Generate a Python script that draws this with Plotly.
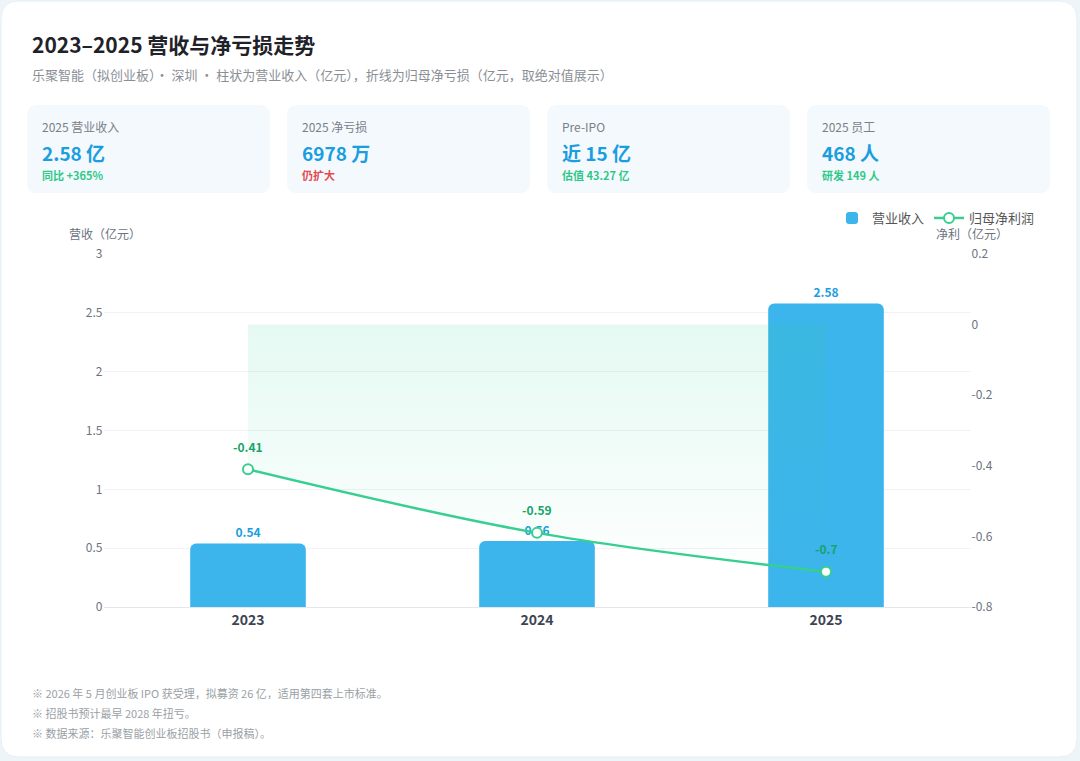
import plotly.graph_objects as go

W, H = 1080, 761
FONT = 'Noto Sans CJK SC'

years = ['2023', '2024', '2025']
revenue = [0.54, 0.56, 2.58]          # 营业收入（亿元）
net_profit = [-0.41, -0.59, -0.70]    # 归母净利润（亿元）
revenue_labels = ['0.54', '0.56', '2.58']
profit_labels = ['-0.41', '-0.59', '-0.7']

left_ticks = [0, 0.5, 1, 1.5, 2, 2.5, 3]
left_ticktext = ['0', '0.5', '1', '1.5', '2', '2.5', '3']
right_ticks = [-0.8, -0.6, -0.4, -0.2, 0, 0.2]
right_ticktext = ['-0.8', '-0.6', '-0.4', '-0.2', '0', '0.2']

kpi_labels = ['2025 营业收入', '2025 净亏损', 'Pre-IPO', '2025 员工']
kpi_values = ['2.58 亿', '6978 万', '近 15 亿', '468 人']
kpi_notes = ['同比 +365%', '仍扩大', '估值 43.27 亿', '研发 149 人']
kpi_note_colors = ['#2ec98a', '#e5484d', '#2ec98a', '#2ec98a']

footnotes = [
    '※ 2026 年 5 月创业板 IPO 获受理，拟募资 26 亿，适用第四套上市标准。',
    '※ 招股书预计最早 2028 年扭亏。',
    '※ 数据来源：乐聚智能创业板招股书（申报稿）。',
]


def fx(x):
    return x / W


def fy(y):
    return 1 - y / H


def rrect(x0, y0, x1, y1, r):
    pts = [
        ('M', [(x0 + r, y0)]), ('L', [(x1 - r, y0)]), ('Q', [(x1, y0), (x1, y0 + r)]),
        ('L', [(x1, y1 - r)]), ('Q', [(x1, y1), (x1 - r, y1)]),
        ('L', [(x0 + r, y1)]), ('Q', [(x0, y1), (x0, y1 - r)]),
        ('L', [(x0, y0 + r)]), ('Q', [(x0, y0), (x0 + r, y0)]),
    ]
    s = ''
    for cmd, ps in pts:
        s += cmd + ' ' + ' '.join(f'{fx(a):.5f},{fy(b):.5f}' for a, b in ps) + ' '
    return s + 'Z'


def note(x, y, text, size, color):
    return dict(x=fx(x), y=fy(y), xref='paper', yref='paper', text=text,
                showarrow=False, xanchor='left', yanchor='middle',
                font=dict(size=size, color=color))


fig = go.Figure()

fig.add_trace(go.Bar(
    x=years, y=revenue, name='营业收入', width=0.4,
    marker=dict(color='#3cb4ec', cornerradius=6, line_width=0),
    text=revenue_labels, textposition='outside', cliponaxis=False,
    textfont=dict(color='#1a9ee0', size=12, family=FONT, weight='bold'),
    yaxis='y',
))

# baseline at 0 for the area fill
fig.add_trace(go.Scatter(
    x=years, y=[0] * len(years), yaxis='y2', mode='lines',
    line=dict(width=0), showlegend=False, hoverinfo='skip',
))
fig.add_trace(go.Scatter(
    x=years, y=net_profit, yaxis='y2', mode='lines', fill='tonexty',
    line=dict(width=0, shape='spline'), showlegend=False, hoverinfo='skip',
    fillgradient=dict(type='vertical', colorscale=[
        [0, 'rgba(52,211,153,0.01)'], [1, 'rgba(52,211,153,0.13)']]),
))
fig.add_trace(go.Scatter(
    x=years, y=net_profit, yaxis='y2', name='归母净利润',
    mode='lines+markers',
    line=dict(color='#36cf8f', width=2.5, shape='spline'),
    marker=dict(size=10, color='#ffffff', line=dict(color='#36cf8f', width=2)),
    cliponaxis=False,
))

shapes = [
    dict(type='path', path=rrect(1, 1, 1077, 757, 18), xref='paper', yref='paper',
         fillcolor='#ffffff', line=dict(color='#e4eef4', width=1), layer='below'),
]
annotations = []
for i in range(4):
    x0 = 27 + i * 260
    shapes.append(dict(type='path', path=rrect(x0, 105, x0 + 243, 193, 10),
                       xref='paper', yref='paper', fillcolor='#f4f9fd',
                       line=dict(width=0), layer='below'))
    annotations += [
        note(x0 + 13, 126, kpi_labels[i], 12, '#7b8088'),
        note(x0 + 13, 152, f'<b>{kpi_values[i]}</b>', 19, '#1a9ee0'),
        note(x0 + 13, 175, f'<b>{kpi_notes[i]}</b>', 11, kpi_note_colors[i]),
    ]

# net profit value labels above the points (x given as category index)
for idx, (v, lab) in enumerate(zip(net_profit, profit_labels)):
    annotations.append(dict(x=idx, y=v, xref='x', yref='y2', text=f'<b>{lab}</b>',
                            showarrow=False, yshift=23,
                            font=dict(size=12, color='#17a46a')))

annotations += [
    note(30, 44, '<b>2023–2025 营收与净亏损走势</b>', 21, '#1f2329'),
    note(30, 74, '乐聚智能（拟创业板）· 深圳 · 柱状为营业收入（亿元），折线为归母净亏损（亿元，取绝对值展示）',
         13, '#8a8f96'),
    note(67, 233, '营收（亿元）', 12, '#6b7280'),
    note(934, 233, '净利（亿元）', 12, '#6b7280'),
]
for k, line in enumerate(footnotes):
    annotations.append(note(30, 693 + k * 20, line, 11, '#9a9fa6'))

fig.update_layout(
    width=W, height=H,
    margin=dict(l=0, r=0, t=0, b=0),
    template='none',
    font=dict(family=FONT, size=12, color='#555'),
    paper_bgcolor='#eef5f9',
    plot_bgcolor='rgba(0,0,0,0)',
    showlegend=True,
    legend=dict(orientation='h', x=fx(1040), xanchor='right', y=fy(218), yanchor='middle',
                font=dict(size=13, color='#555'), bgcolor='rgba(0,0,0,0)',
                traceorder='normal', itemwidth=30),
    xaxis=dict(domain=[fx(103.5), fx(970.5)], type='category', automargin=False,
               categoryorder='array', categoryarray=years, range=[-0.5, 2.5],
               showline=True, linecolor='#e3e7ec', linewidth=1, showgrid=False,
               ticks='', tickfont=dict(size=14, color='#3d4452', weight='bold'),
               zeroline=False),
    yaxis=dict(domain=[fy(607), fy(254)], range=[0, 3], automargin=False,
               tickvals=left_ticks, ticktext=left_ticktext, ticks='',
               tickfont=dict(size=12, color='#6b7280'),
               showgrid=True, gridcolor='#f0f2f5', gridwidth=1, zeroline=False,
               showline=False),
    yaxis2=dict(overlaying='y', side='right', anchor='x', range=[-0.8, 0.2],
                automargin=False, tickvals=right_ticks, ticktext=right_ticktext,
                ticks='', tickfont=dict(size=12, color='#6b7280'),
                showgrid=False, zeroline=False, showline=False),
    shapes=shapes,
    annotations=annotations,
)

fig.write_html('out.html', config={'displayModeBar': False},
               post_script="document.body.style.margin='0';")
